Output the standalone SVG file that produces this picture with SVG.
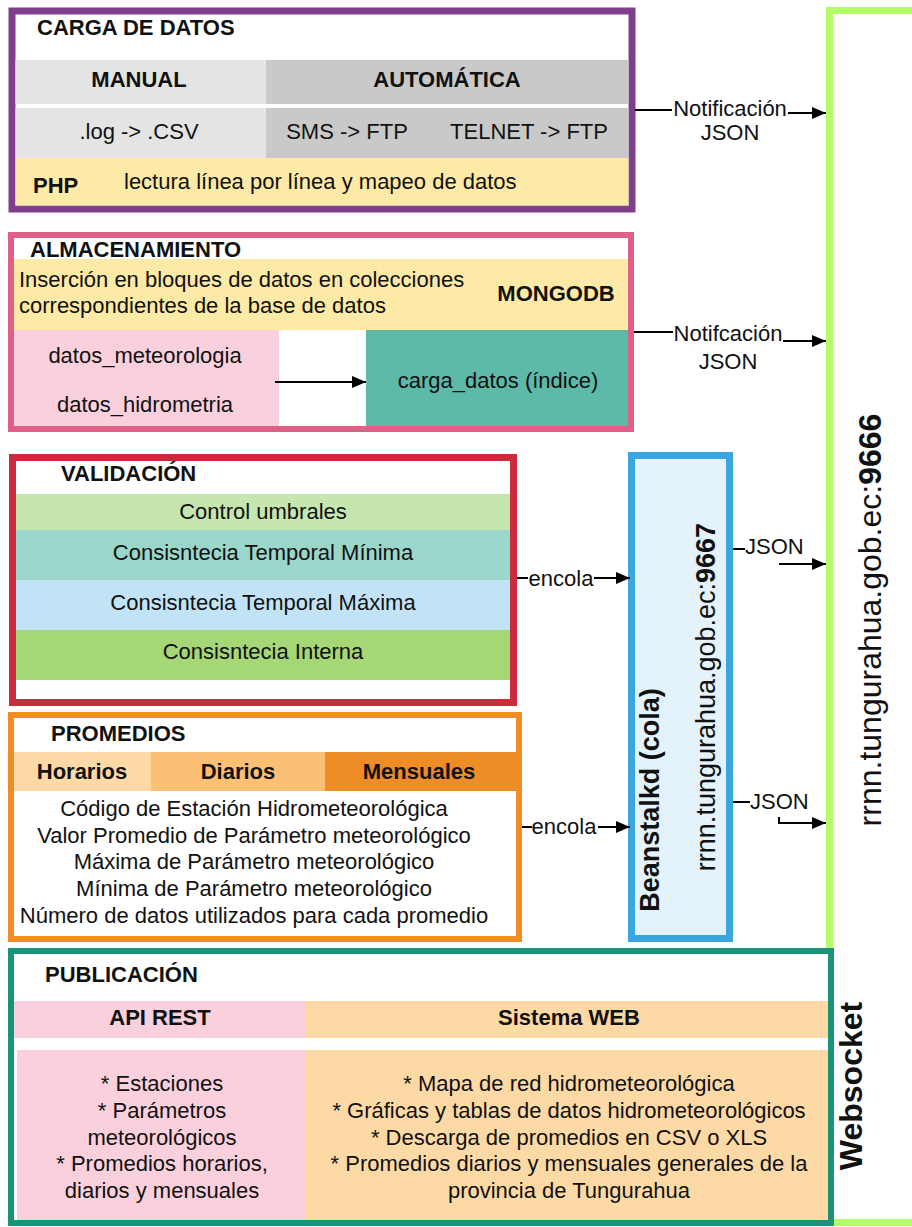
<svg xmlns="http://www.w3.org/2000/svg" width="912" height="1227" viewBox="0 0 912 1227">
<defs>
<style>
text{font-family:"Liberation Sans",Arial,sans-serif;font-size:22px;fill:#111;dominant-baseline:central}
.b{font-weight:bold}
.c{text-anchor:middle}
.ln{stroke:#000;stroke-width:2;fill:none}
.ar{stroke:#000;stroke-width:2;fill:none;marker-end:url(#ah)}
</style>
<marker id="ah" markerUnits="userSpaceOnUse" markerWidth="14" markerHeight="12" refX="14" refY="6" orient="auto">
<path d="M0,0 L14,6 L0,12 z" fill="#000"/>
</marker>
</defs>
<rect width="912" height="1227" fill="#fff"/>

<g id="servidor-9666">
<rect x="829.5" y="10.5" width="100" height="1212" fill="#fff" stroke="#b3fd69" stroke-width="7"/>
<text class="c" x="0" y="0" transform="translate(881,620) rotate(-90)" style="font-size:32px;dominant-baseline:auto">rrnn.tungurahua.gob.ec:<tspan class="b">9666</tspan></text>
</g>

<g id="carga-de-datos">
<rect x="12" y="11" width="620" height="198" fill="#fff" stroke="#7e3f8b" stroke-width="7"/>
<rect x="15.5" y="60" width="250.5" height="44" fill="#e4e4e4"/>
<rect x="266" y="60" width="362.5" height="44" fill="#c9c9c9"/>
<rect x="15.5" y="108" width="250.5" height="50" fill="#e4e4e4"/>
<rect x="266" y="108" width="362.5" height="50" fill="#c9c9c9"/>
<rect x="15.5" y="158" width="613" height="47.5" fill="#fdeaa6"/>
<text class="b" x="37" y="27">CARGA DE DATOS</text>
<text class="b c" x="139" y="79">MANUAL</text>
<text class="b c" x="447" y="79">AUTOMÁTICA</text>
<text class="c" x="139" y="131">.log -&gt; .CSV</text>
<text class="c" x="347" y="131">SMS -&gt; FTP</text>
<text class="c" x="529" y="131">TELNET -&gt; FTP</text>
<text class="b" x="33" y="185">PHP</text>
<text x="124" y="181">lectura línea por línea y mapeo de datos</text>
</g>

<g id="almacenamiento">
<rect x="11" y="235" width="620" height="194" fill="#fff" stroke="#df5f87" stroke-width="6"/>
<rect x="14" y="259" width="614" height="71" fill="#fdeaa6"/>
<rect x="14" y="330" width="265" height="96" fill="#f9d0dc"/>
<rect x="366" y="330" width="262" height="96" fill="#5db9a8"/>
<text class="b" x="30" y="249">ALMACENAMIENTO</text>
<text x="19" y="279">Inserción en bloques de datos en colecciones</text>
<text x="19" y="305">correspondientes de la base de datos</text>
<text class="b c" x="556" y="293">MONGODB</text>
<text class="c" x="145" y="355">datos_meteorologia</text>
<text class="c" x="145" y="404">datos_hidrometria</text>
<text class="c" x="498" y="380">carga_datos (índice)</text>
</g>

<g id="validacion">
<rect x="12.5" y="457.5" width="501" height="245" fill="#fff" stroke="#cc2b3b" stroke-width="7"/>
<rect x="16" y="494" width="494" height="36" fill="#c5e6ae"/>
<rect x="16" y="530" width="494" height="50" fill="#9ad6c9"/>
<rect x="16" y="580" width="494" height="50" fill="#c2e3f5"/>
<rect x="16" y="630" width="494" height="50" fill="#a6d776"/>
<text class="b" x="61" y="473">VALIDACIÓN</text>
<text class="c" x="263" y="511">Control umbrales</text>
<text class="c" x="263" y="552">Consisntecia Temporal Mínima</text>
<text class="c" x="263" y="602">Consisntecia Temporal Máxima</text>
<text class="c" x="263" y="651">Consisntecia Interna</text>
</g>

<g id="promedios">
<rect x="11" y="715" width="508" height="224" fill="#fff" stroke="#ef8d27" stroke-width="6"/>
<rect x="14" y="752" width="137" height="39" fill="#fdd9a6"/>
<rect x="151" y="752" width="174" height="39" fill="#fbc074"/>
<rect x="325" y="752" width="191" height="39" fill="#ee8c25"/>
<text class="b" x="51" y="733">PROMEDIOS</text>
<text class="b c" x="82" y="771">Horarios</text>
<text class="b c" x="238" y="771">Diarios</text>
<text class="b c" x="419" y="771">Mensuales</text>
<text class="c" x="254" y="808">Código de Estación Hidrometeorológica</text>
<text class="c" x="254" y="835">Valor Promedio de Parámetro meteorológico</text>
<text class="c" x="254" y="861">Máxima de Parámetro meteorológico</text>
<text class="c" x="254" y="888">Mínima de Parámetro meteorológico</text>
<text class="c" x="254" y="915">Número de datos utilizados para cada promedio</text>
</g>

<g id="beanstalkd">
<rect x="631.5" y="455.5" width="98" height="483" fill="#e4f3fb" stroke="#3aa6dd" stroke-width="7"/>
<text class="b c" x="0" y="0" transform="translate(659,800) rotate(-90)" style="font-size:27px;dominant-baseline:auto">Beanstalkd (cola)</text>
<text class="c" x="0" y="0" transform="translate(715,697) rotate(-90)" style="font-size:27px;dominant-baseline:auto">rrnn.tungurahua.gob.ec:<tspan class="b">9667</tspan></text>
</g>

<g id="publicacion">
<rect x="11" y="951" width="820" height="272" fill="#fff" stroke="#1a9479" stroke-width="6"/>
<rect x="14" y="1001" width="291" height="37" fill="#f9d0dc"/>
<rect x="305" y="1001" width="523" height="37" fill="#fdd9a6"/>
<rect x="17" y="1050" width="288" height="170" fill="#f9d0dc"/>
<rect x="305" y="1050" width="523" height="170" fill="#fdd9a6"/>
<text class="b" x="45" y="974">PUBLICACIÓN</text>
<text class="b c" x="160" y="1017">API REST</text>
<text class="b c" x="569" y="1017">Sistema WEB</text>
<text class="c" x="162" y="1083">* Estaciones</text>
<text class="c" x="162" y="1110">* Parámetros</text>
<text class="c" x="162" y="1137">meteorológicos</text>
<text class="c" x="162" y="1163">* Promedios horarios,</text>
<text class="c" x="162" y="1190">diarios y mensuales</text>
<text class="c" x="569" y="1083">* Mapa de red hidrometeorológica</text>
<text class="c" x="569" y="1110">* Gráficas y tablas de datos hidrometeorológicos</text>
<text class="c" x="569" y="1137">* Descarga de promedios en CSV o XLS</text>
<text class="c" x="569" y="1163">* Promedios diarios y mensuales generales de la</text>
<text class="c" x="569" y="1190">provincia de Tungurahua</text>
</g>

<g id="websocket">
<text class="b c" x="0" y="0" transform="translate(862,1086) rotate(-90)" style="font-size:32px;dominant-baseline:auto">Websocket</text>
</g>

<g id="connectors">
<line class="ln" x1="635" y1="110" x2="672" y2="110"/>
<line class="ar" x1="788" y1="113" x2="826" y2="113"/>
<text class="c" x="730" y="108">Notificación</text>
<text class="c" x="730" y="132">JSON</text>

<line class="ln" x1="634" y1="332" x2="673" y2="332"/>
<line class="ar" x1="783" y1="341" x2="826" y2="341"/>
<text class="c" x="728" y="333">Notifcación</text>
<text class="c" x="728" y="361">JSON</text>

<line class="ar" x1="275" y1="382" x2="366" y2="382"/>

<line class="ln" x1="517" y1="578" x2="528" y2="578"/>
<line class="ar" x1="594" y1="578" x2="630" y2="578"/>
<text class="c" x="561" y="578">encola</text>

<line class="ln" x1="522" y1="827" x2="532" y2="827"/>
<line class="ar" x1="598" y1="827" x2="630" y2="827"/>
<text class="c" x="564" y="826">encola</text>

<line class="ln" x1="733" y1="549" x2="745" y2="549"/>
<text x="745" y="546">JSON</text>
<line class="ar" x1="779" y1="564" x2="826" y2="564"/>

<line class="ln" x1="733" y1="802" x2="750" y2="802"/>
<text x="750" y="801">JSON</text>
<polyline class="ar" points="779,817 779,823 826,823"/>
</g>
</svg>
